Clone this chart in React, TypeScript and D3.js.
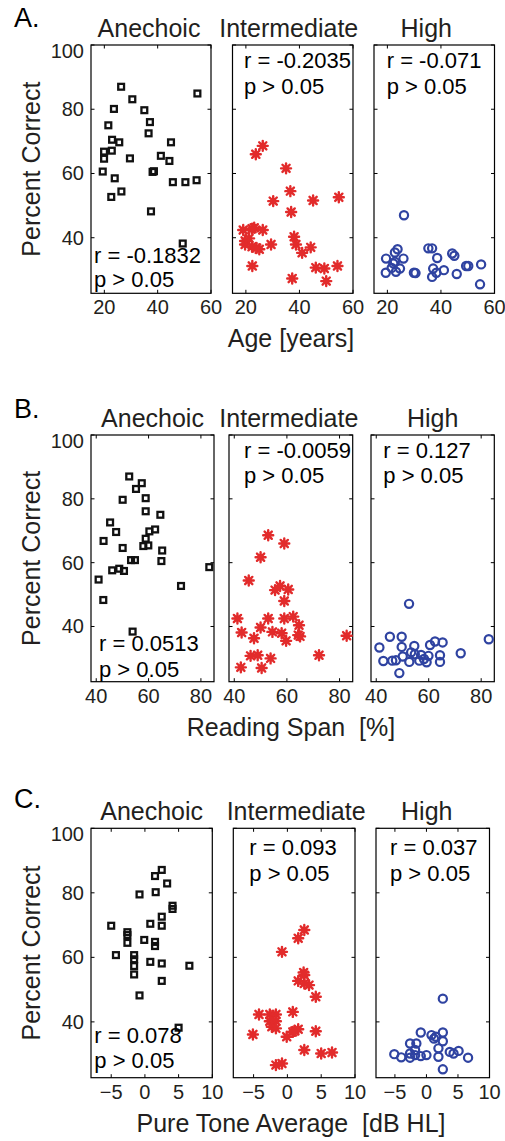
import React from "react";
import * as d3 from "d3";

type Pt = [number, number];

// Row A: Age [years] vs Percent Correct
const ageAnechoic: Pt[] = [[26.3,87.0],[30.5,83.1],[23.6,80.1],[35.0,79.7],[54.9,84.9],[21.5,75.0],[37.1,76.0],[36.6,72.5],[22.9,70.5],[25.6,69.7],[45.0,69.7],[19.9,66.8],[22.8,67.1],[19.9,64.6],[29.6,64.7],[41.2,65.5],[44.4,63.9],[19.4,60.6],[38.1,60.5],[38.6,60.7],[23.9,58.5],[45.7,57.3],[50.4,57.3],[54.6,57.9],[22.6,52.7],[26.4,54.4],[37.5,48.2],[49.4,38.2]];
const ageIntermediate: Pt[] = [[26.3,68.6],[23.7,66.0],[35.0,61.6],[36.6,54.5],[30.2,51.4],[45.1,51.6],[54.7,52.6],[36.9,48.0],[19.0,42.4],[22.3,42.8],[23.1,43.1],[26.3,42.4],[38.0,40.3],[19.7,39.0],[19.7,37.9],[22.3,37.2],[25.0,36.4],[29.4,37.9],[38.7,37.9],[44.2,37.0],[41.0,35.3],[22.4,31.2],[46.1,30.7],[49.3,30.4],[54.2,31.2],[37.3,27.3],[50.0,26.5],[21.2,39.8],[24.0,36.8]];
const ageHigh: Pt[] = [[26.2,47.0],[23.8,36.4],[22.8,35.4],[19.5,33.5],[26.0,33.5],[22.2,32.0],[35.3,36.7],[36.7,36.7],[38.6,33.7],[44.2,35.1],[45.0,34.4],[19.4,29.1],[21.6,30.6],[23.2,29.4],[24.7,30.4],[29.9,29.1],[37.1,30.4],[36.7,27.8],[38.3,29.1],[41.1,29.9],[45.9,28.7],[49.4,31.2],[50.2,31.2],[55.0,31.7],[54.6,25.5],[22.8,32.5],[30.5,29.0]];

// Row B: Reading Span [%] vs Percent Correct
const spanAnechoic: Pt[] = [[52.6,87.0],[57.4,84.9],[55.2,83.1],[58.9,80.2],[50.1,79.7],[58.9,76.1],[64.5,75.0],[45.3,72.6],[47.6,69.6],[60.3,69.8],[62.5,70.4],[42.8,66.8],[58.9,67.5],[50.1,64.6],[58.0,65.2],[59.9,65.4],[65.2,63.8],[53.3,60.8],[54.8,60.8],[64.9,60.5],[46.1,57.6],[48.8,58.1],[50.6,57.4],[40.9,54.7],[83.2,58.6],[72.4,52.7],[42.7,48.3],[53.9,38.4]];
const spanIntermediate: Pt[] = [[52.9,68.6],[59.0,66.0],[50.0,61.7],[45.5,54.4],[55.5,51.4],[57.4,52.7],[60.5,51.6],[59.0,48.0],[41.2,42.5],[52.9,42.5],[59.0,42.5],[62.4,43.1],[64.6,40.4],[42.8,38.1],[50.0,39.7],[54.5,38.3],[58.0,37.9],[64.3,37.3],[65.0,36.9],[82.7,37.1],[47.5,36.3],[59.7,35.5],[46.2,30.8],[48.9,31.0],[53.8,30.0],[72.2,31.0],[42.5,27.2],[50.4,27.0]];
const spanHigh: Pt[] = [[52.5,47.1],[45.2,36.8],[49.7,36.8],[41.2,33.4],[49.7,33.6],[54.5,33.9],[60.5,34.2],[62.4,35.3],[65.3,35.0],[82.9,36.0],[72.2,31.6],[42.7,29.2],[46.1,29.3],[50.1,30.6],[53.3,31.9],[57.1,31.1],[64.3,31.0],[64.3,28.9],[52.6,28.9],[56.4,29.3],[58.2,29.8],[59.9,30.8],[59.2,28.8],[48.8,25.4],[47.5,29.4],[54.7,31.3]];

// Row C: Pure Tone Average [dB HL] vs Percent Correct
const ptaAnechoic: Pt[] = [[2.5,87.1],[1.5,85.2],[3.3,82.9],[-0.8,79.5],[1.6,80.2],[4.1,76.0],[4.1,75.0],[2.5,72.6],[2.5,69.8],[0.8,70.4],[-5.0,69.8],[-2.6,66.9],[-2.6,64.5],[-0.1,65.4],[1.5,64.8],[1.5,63.5],[-4.3,60.7],[-1.6,60.7],[-1.6,59.4],[-1.6,57.3],[-1.6,54.7],[0.8,58.6],[2.5,58.1],[6.6,57.4],[2.5,52.7],[-0.8,48.2],[5.0,38.2],[-2.6,67.8]];
const ptaIntermediate: Pt[] = [[2.5,68.5],[1.6,65.9],[-0.8,61.7],[2.5,54.5],[1.6,52.7],[2.5,51.9],[3.2,51.4],[4.2,47.8],[-4.2,42.3],[-2.6,42.3],[-1.7,42.3],[-2.6,40.2],[-1.7,40.2],[-2.3,38.5],[-1.7,38.0],[0.8,43.1],[-5.1,36.1],[-0.1,35.4],[0.8,36.9],[1.6,37.7],[4.2,37.1],[2.5,31.3],[5.0,30.2],[6.6,30.5],[-1.7,26.6],[-0.8,27.1],[1.1,37.2],[2.4,55.3]];
const ptaHigh: Pt[] = [[2.6,47.2],[-0.9,36.7],[0.8,35.9],[2.6,36.7],[1.5,35.4],[-2.6,33.3],[-1.6,33.3],[2.6,34.0],[-5.1,30.0],[-4.0,29.0],[-2.6,30.2],[-2.6,28.9],[-1.8,31.3],[-0.9,29.4],[0.0,29.7],[1.9,31.8],[1.9,29.2],[3.7,30.7],[4.3,30.2],[5.1,31.0],[6.6,28.9],[2.6,25.3],[-1.8,29.7],[1.2,34.8]];

const conditions = ["Anechoic", "Intermediate", "High"];
const rowLetters = ["A.", "B.", "C."];
const xLabels = ["Age [years]", "Reading Span  [%]", "Pure Tone Average  [dB HL]"];
const xDomains: [number, number][] = [[15, 60], [38, 85], [-8, 10]];
const xTickValues = [[20, 40, 60], [40, 60, 80], [-5, 0, 5, 10]];
const yDomain: [number, number] = [22.7, 100];
const yTickValues = [40, 60, 80, 100];
const rValues = [
  ["r = -0.1832", "r = -0.2035", "r = -0.071"],
  ["r = 0.0513", "r = -0.0059", "r = 0.127"],
  ["r = 0.078", "r = 0.093", "r = 0.037"],
];
const pText = "p > 0.05";
const rowData = [
  [ageAnechoic, ageIntermediate, ageHigh],
  [spanAnechoic, spanIntermediate, spanHigh],
  [ptaAnechoic, ptaIntermediate, ptaHigh],
];

// layout (positions only)
const rowLayout = [
  { top: 45, bottom: 293.3, letterY: 27, titleShift: [-2, -4, -8], panels: [[91, 211], [232.5, 353], [374, 494.5]],
    annot: [{ dx: 3, ry: -30.6, py: -6 }, { dx: 11.5, ry: 23.3, py: 49 }, { dx: 12.7, ry: 23.3, py: 49 }] },
  { top: 435, bottom: 681.7, letterY: 418, titleShift: [0, -2, 0], panels: [[91, 214], [229, 352.7], [371, 494.3]],
    annot: [{ dx: 8, ry: -31, py: -5 }, { dx: 15, ry: 23.3, py: 48.3 }, { dx: 12.3, ry: 23.3, py: 48.3 }] },
  { top: 828.3, bottom: 1077.7, letterY: 808, titleShift: [0, 2, -6], panels: [[91, 212.3], [233.3, 355], [376, 489.5]],
    annot: [{ dx: 3.3, ry: -34.4, py: -9.4 }, { dx: 16, ry: 26.7, py: 52.4 }, { dx: 14, ry: 26.7, py: 52.4 }] },
];

const FONT = "'Liberation Sans', Arial, Helvetica, sans-serif";
const TXT = "#231f20";
const RED = "#e22b2b";
const BLUE = "#2f43a1";
const BLACK = "#111";

function Marker({ kind, x, y }: { kind: number; x: number; y: number }) {
  if (kind === 0) {
    const s = 5.8;
    return <rect x={x - s / 2} y={y - s / 2} width={s} height={s} fill="none" stroke={BLACK} strokeWidth={2.3} />;
  }
  if (kind === 1) {
    const a = 5, b = 3.6;
    const p = d3.path();
    p.moveTo(x - a, y); p.lineTo(x + a, y);
    p.moveTo(x, y - a); p.lineTo(x, y + a);
    p.moveTo(x - b, y - b); p.lineTo(x + b, y + b);
    p.moveTo(x - b, y + b); p.lineTo(x + b, y - b);
    return <path d={p.toString()} stroke={RED} strokeWidth={2.4} fill="none" strokeLinecap="round" />;
  }
  return <circle cx={x} cy={y} r={4.1} fill="none" stroke={BLUE} strokeWidth={2.2} />;
}

function Panel({ row, col }: { row: number; col: number }) {
  const L = rowLayout[row];
  const [x0, x1] = L.panels[col];
  const xs = d3.scaleLinear().domain(xDomains[row]).range([x0, x1]);
  const ys = d3.scaleLinear().domain(yDomain).range([L.bottom, L.top]);
  const fmt = (v: number) => d3.format("d")(v).replace("-", "\u2212");
  const tl = 3.5;
  const an = L.annot[col];
  const annotTop = an.ry > 0;
  const rY = annotTop ? L.top + an.ry : L.bottom + an.ry;
  const pY = annotTop ? L.top + an.py : L.bottom + an.py;
  const data = rowData[row][col];
  return (
    <g>
      <rect x={x0} y={L.top} width={x1 - x0} height={L.bottom - L.top} fill="#fff" stroke="#000" strokeWidth={1.2} />
      {xTickValues[row].map((t) => (
        <g key={"xt" + t}>
          <line x1={xs(t)} x2={xs(t)} y1={L.bottom} y2={L.bottom - tl} stroke="#000" strokeWidth={1} />
          <line x1={xs(t)} x2={xs(t)} y1={L.top} y2={L.top + tl} stroke="#000" strokeWidth={1} />
          <text x={xs(t)} y={L.bottom + 21} textAnchor="middle" fontSize={20} fill={TXT}>{fmt(t)}</text>
        </g>
      ))}
      {yTickValues.map((t) => (
        <g key={"yt" + t}>
          <line x1={x0} x2={x0 + tl} y1={ys(t)} y2={ys(t)} stroke="#000" strokeWidth={1} />
          <line x1={x1} x2={x1 - tl} y1={ys(t)} y2={ys(t)} stroke="#000" strokeWidth={1} />
          {col === 0 && (
            <text x={x0 - 7} y={ys(t) + 7 + (t === 100 ? 6 : 0)} textAnchor="end" fontSize={20} fill={TXT}>{fmt(t)}</text>
          )}
        </g>
      ))}
      {data.map((d, i) => (
        <Marker key={i} kind={col} x={xs(d[0])} y={ys(d[1])} />
      ))}
      <text x={x0 + an.dx} y={rY} fontSize={22} fill="#000">{rValues[row][col]}</text>
      <text x={x0 + an.dx} y={pY} fontSize={22} fill="#000">{pText}</text>
      <text x={(x0 + x1) / 2 + L.titleShift[col]} y={L.top - 8.5} textAnchor="middle" fontSize={25} fill={TXT}>{conditions[col]}</text>
    </g>
  );
}

export default function App() {
  return (
    <svg width={505} height={1141} viewBox="0 0 505 1141"
      style={{ position: "absolute", left: 0, top: 0, display: "block", background: "#fff" }}
      fontFamily={FONT}>
      <rect x={0} y={0} width={505} height={1141} fill="#fff" />
      {rowLayout.map((L, r) => (
        <g key={r}>
          <text x={14} y={L.letterY} fontSize={27} fill="#000">{rowLetters[r]}</text>
          <text transform={`translate(40,${(L.top + L.bottom) / 2}) rotate(-90)`} textAnchor="middle" fontSize={25} fill={TXT}>Percent Correct</text>
          <text x={291} y={L.bottom + 54} textAnchor="middle" fontSize={25} fill={TXT} style={{ whiteSpace: "pre" }}>{xLabels[r]}</text>
          {[0, 1, 2].map((c) => <Panel key={c} row={r} col={c} />)}
        </g>
      ))}
    </svg>
  );
}
